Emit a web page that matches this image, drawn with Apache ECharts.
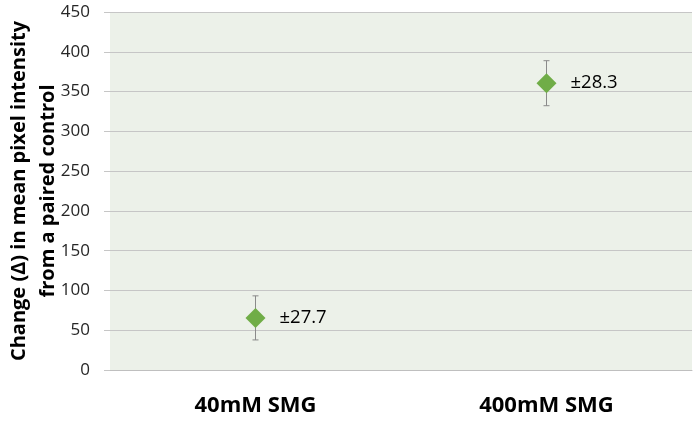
<!DOCTYPE html>
<html><head><meta charset="utf-8">
<script src="https://cdn.jsdelivr.net/npm/echarts@6/dist/echarts.min.js"></script>
<style>html,body{margin:0;padding:0;background:#fff}#c{width:700px;height:429px}</style>
</head><body><div id="c"></div>
<script>
const categories = ['40mM SMG', '400mM SMG'];
const means = [65.5, 360.5];
const errors = [27.7, 28.3];
const errorLabels = ['±27.7', '±28.3'];
const yTicks = [0, 50, 100, 150, 200, 250, 300, 350, 400, 450];
const yTitleLines = ['Change (Δ) in mean pixel intensity', 'from a paired control'];

const chart = echarts.init(document.getElementById('c'));
const F = '"Open Sans", sans-serif';
chart.setOption({
  animation: false,
  grid: { left: 110, right: 8, top: 12, bottom: 59, show: true, backgroundColor: '#ECF1E9', borderWidth: 0, outerBoundsMode: 'none', containLabel: false },
  graphic: yTitleLines.map((t, i) => ({
    type: 'text', x: 19 + i * 29, y: 191, rotation: Math.PI / 2,
    style: { text: t, font: 'bold 20px "Open Sans", sans-serif', fill: '#000', align: 'center', verticalAlign: 'middle' }
  })),
  xAxis: {
    type: 'category', data: categories,
    axisLine: { lineStyle: { color: '#bfbfbf', width: 1 } },
    axisTick: { show: false },
    axisLabel: { fontFamily: F, fontWeight: 'bold', fontSize: 22, color: '#000', margin: 25 }
  },
  yAxis: {
    type: 'value', min: 0, max: 450, interval: 50,
    axisLine: { show: false },
    axisTick: { show: true, inside: false, length: 6, lineStyle: { color: '#c6c6c6' } },
    splitLine: { lineStyle: { color: '#c6c6c6', width: 1 } },
    axisLabel: {
      fontFamily: F, fontSize: 17, color: '#262626', margin: 20,
      formatter: v => yTicks.includes(v) ? String(v) : ''
    }
  },
  series: [
    {
      type: 'custom',
      renderItem: function (params, api) {
        const x = api.coord([api.value(0), 0])[0];
        const top = api.coord([api.value(0), api.value(1) + api.value(2)])[1];
        const bot = api.coord([api.value(0), api.value(1) - api.value(2)])[1];
        const st = { stroke: '#8a8a8a', lineWidth: 1 };
        return { type: 'group', children: [
          { type: 'line', shape: { x1: x, y1: top, x2: x, y2: bot }, style: st },
          { type: 'line', shape: { x1: x - 3, y1: top, x2: x + 3, y2: top }, style: st },
          { type: 'line', shape: { x1: x - 3, y1: bot, x2: x + 3, y2: bot }, style: st }
        ]};
      },
      data: categories.map((c, i) => [i, means[i], errors[i]]),
      z: 2
    },
    {
      type: 'scatter', symbol: 'diamond', symbolSize: 20,
      itemStyle: { color: '#70AD47', opacity: 1 },
      data: categories.map((c, i) => [i, means[i]]),
      label: {
        show: true, position: 'right', distance: 14,
        fontFamily: F, fontSize: 18.5, color: '#000',
        formatter: p => errorLabels[p.dataIndex]
      },
      z: 3
    }
  ]
});
</script></body></html>
